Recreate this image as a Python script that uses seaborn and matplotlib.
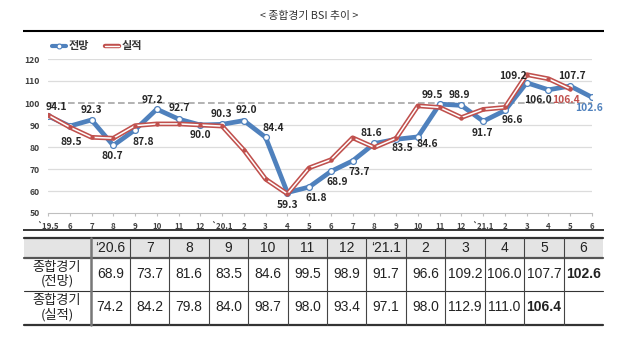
import numpy as np
import pandas as pd
import matplotlib
matplotlib.use("Agg")
import matplotlib.pyplot as plt
import seaborn as sns
from matplotlib import font_manager
from matplotlib.lines import Line2D
from matplotlib.patches import Rectangle
from matplotlib.legend_handler import HandlerTuple
from matplotlib.font_manager import FontProperties

# ---------------- data ----------------
months = ["`19.5", "6", "7", "8", "9", "10", "11", "12", "`20.1", "2", "3", "4", "5",
          "6", "7", "8", "9", "10", "11", "12", "`21.1", "2", "3", "4", "5", "6"]
forecast = [94.1, 89.5, 92.3, 80.7, 87.8, 97.2, 92.7, 90.0, 90.3, 92.0, 84.4, 59.3, 61.8,
            68.9, 73.7, 81.6, 83.5, 84.6, 99.5, 98.9, 91.7, 96.6, 109.2, 106.0, 107.7, 102.6]
actual = [94.5, 89.0, 84.4, 84.0, 89.7, 90.5, 90.5, 90.0, 89.5, 78.6, 65.4, 58.7, 70.5,
          74.2, 84.2, 79.8, 84.0, 98.7, 98.0, 93.4, 97.1, 98.0, 112.9, 111.0, 106.4, np.nan]
table_cols = ["‘20.6", "7", "8", "9", "10", "11", "12", "‘21.1", "2", "3", "4", "5", "6"]
table_start = 13
row_labels = [("종합경기", "(전망)"), ("종합경기", "(실적)")]
title = "< 종합경기 BSI 추이 >"
series_names = ["전망", "실적"]

# ---------------- styles ----------------
label_offsets = [(8, 9), (2, -16), (0, 10), (-1, -11), (8, -12), (-4, 9), (1, 11), (0, -10),
                 (-1, 10), (3, 11), (8, 9), (0, -12), (7, -11), (6, -11), (7, -11), (-3, 10),
                 (6, -9), (9, -7), (-7, 9), (-2, 10), (-1, -12), (7, -10), (-14, 7), (-10, -10),
                 (2, 10), (-3, -11)]
red_label_offset = (-4, -11)
BLUE = "#4F81BD"
RED = "#C0504D"

sns.set_theme(style="white")
plt.rcParams['font.family'] = ['Noto Sans CJK KR', 'DejaVu Sans']

names = {f.name for f in font_manager.fontManager.ttflist}
if 'Liberation Sans Narrow' in names:
    tab_family, tab_size = ['Liberation Sans Narrow', 'DejaVu Sans'], 11.5
else:
    tab_family, tab_size = ['Liberation Sans', 'DejaVu Sans'], 10

W, H = 620, 338
fig = plt.figure(figsize=(6.2, 3.38), dpi=100)
fig.patch.set_facecolor("white")

# pixel-coordinate overlay axes for table & rules
axt = fig.add_axes([0, 0, 1, 1], zorder=0)
axt.set_xlim(0, W)
axt.set_ylim(H, 0)
axt.axis("off")

ax = fig.add_axes([48 / W, 1 - 213 / H, (592 - 48) / W, (213 - 59) / H], zorder=2)
ax.patch.set_alpha(0)

df = pd.DataFrame({"idx": np.arange(len(months)), "forecast": forecast, "actual": actual})

# grid lines
yt = list(range(50, 121, 10))
for v in yt:
    if v == 100:
        ax.axhline(v, color="#a6a6a6", lw=1.2, ls=(0, (4, 2)), zorder=1)
    elif v > 50:
        ax.axhline(v, color="#dcdcdc", lw=0.9, zorder=1)

sns.lineplot(data=df, x="idx", y="forecast", ax=ax, color=BLUE, lw=3.4, marker="o",
             markersize=4.2, markerfacecolor="white", markeredgecolor=BLUE,
             markeredgewidth=0.9, zorder=3)
dfa = df.dropna(subset=["actual"])
sns.lineplot(data=dfa, x="idx", y="actual", ax=ax, color=RED, lw=3.4, zorder=4)
sns.lineplot(data=dfa, x="idx", y="actual", ax=ax, color="white", lw=1.1, zorder=5)
sns.scatterplot(data=dfa, x="idx", y="actual", ax=ax, color=RED, s=10, edgecolor=RED,
                linewidth=0, zorder=6)

for i, (v, (dx, dy)) in enumerate(zip(forecast, label_offsets)):
    col = BLUE if i == len(forecast) - 1 else "#262626"
    ax.annotate(f"{v:.1f}", (i, v), xytext=(dx, dy), textcoords="offset pixels",
                ha="center", va="center", fontsize=7.4, fontweight="bold", color=col, zorder=7)
last_a = len(dfa) - 1
ax.annotate(f"{actual[last_a]:.1f}", (last_a, actual[last_a]), xytext=red_label_offset,
            textcoords="offset pixels", ha="center", va="center", fontsize=7.4,
            fontweight="bold", color=RED, zorder=7)

ax.set_xlim(0, len(months) - 1)
ax.set_ylim(50, 120)
ax.set_xticks(np.arange(len(months)))
ax.set_xticklabels(months)
ax.set_yticks(yt)
ax.set_xlabel("")
ax.set_ylabel("")
for s in ["top", "right", "left"]:
    ax.spines[s].set_visible(False)
ax.spines["bottom"].set_color("#bfbfbf")
ax.spines["bottom"].set_linewidth(0.8)
ax.tick_params(axis="y", length=0, pad=6, labelsize=6.2, labelcolor="#404040")
ax.tick_params(axis="x", bottom=True, direction="out", length=2.5, width=0.8,
               color="#bfbfbf", pad=4, labelsize=5.7, labelcolor="#404040")
for lbl in ax.get_xticklabels() + ax.get_yticklabels():
    lbl.set_fontweight("bold")

# legend
h_blue = Line2D([], [], color=BLUE, lw=3, marker="o", markersize=3.5,
                markerfacecolor="white", markeredgecolor=BLUE, markeredgewidth=0.8)
h_red = (Line2D([], [], color=RED, lw=3.2), Line2D([], [], color="white", lw=1.0))
leg = ax.legend([h_blue, h_red], series_names, loc="center left",
                bbox_to_anchor=(52 / W, 1 - 46 / H), bbox_transform=fig.transFigure,
                ncol=2, frameon=False, handlelength=1.25, handletextpad=0.2,
                columnspacing=1.5, borderaxespad=0, borderpad=0,
                prop=FontProperties(family=['Noto Sans CJK KR'], weight="bold", size=8),
                handler_map={tuple: HandlerTuple(ndivide=1, pad=0)})
for t in leg.get_texts():
    t.set_color("#333333")

# title and rules
axt.text(309, 16, title, ha="center", va="center", fontsize=7.8, color="#333333",
         family=['Noto Sans CJK KR', 'DejaVu Sans'])
axt.plot([23, 604], [30.7, 30.7], color="black", lw=1.5, solid_capstyle="butt")
axt.plot([23, 604], [230, 230], color="black", lw=1.1, solid_capstyle="butt")

# table
left, lab_right, right = 24, 90.5, 603
y_top, y_h, y_r1, y_bot = 238, 257.5, 291, 324.5
axt.add_patch(Rectangle((left, y_top), right - left, y_h - y_top, facecolor="#e4e4e4",
                        edgecolor="none", zorder=1))
bounds = np.linspace(lab_right, right, len(table_cols) + 1)
centers = (bounds[:-1] + bounds[1:]) / 2
axt.plot([left, right], [y_top, y_top], color="#333333", lw=1.6, zorder=3)
axt.plot([left, right], [y_h, y_h], color="#555555", lw=1.6, zorder=3)
axt.plot([left, right], [y_r1, y_r1], color="#333333", lw=0.8, zorder=3)
axt.plot([left, right], [y_bot, y_bot], color="#333333", lw=1.6, zorder=3)
axt.plot([lab_right, lab_right], [y_top, y_bot], color="#777777", lw=1.8, zorder=3)
for b in bounds[1:-1]:
    axt.plot([b, b], [y_top, y_bot], color="#444444", lw=0.8, zorder=3)

tab_font = dict(family=tab_family, fontsize=tab_size, color="#222222", ha="center", va="center")
for c, lab in zip(centers, table_cols):
    axt.text(c, 248, lab, **tab_font)
for j, c in enumerate(centers):
    k = table_start + j
    fv = forecast[k]
    axt.text(c, 274.5, f"{fv:.1f}", fontweight="bold" if k == len(forecast) - 1 else "normal",
             **tab_font)
    av = actual[k]
    if not np.isnan(av):
        axt.text(c, 307, f"{av:.1f}", fontweight="bold" if k == last_a else "normal", **tab_font)

lab_font = dict(family=['Noto Sans CJK KR', 'DejaVu Sans'], fontsize=9.5, color="#222222",
                ha="center", va="center")
for (l1, l2), yc in zip(row_labels, [274, 307.5]):
    axt.text(57, yc - 7, l1, **lab_font)
    axt.text(57, yc + 7, l2, **lab_font)

fig.savefig("out.png", dpi=100, facecolor="white")
